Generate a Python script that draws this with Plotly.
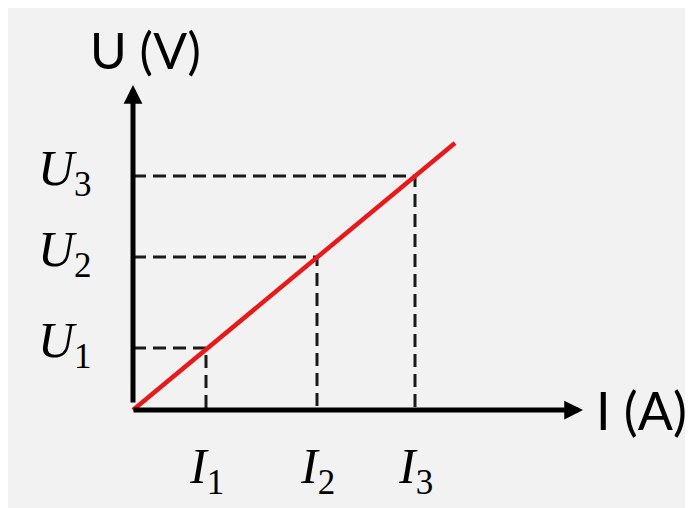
import plotly.graph_objects as go

# Data (arbitrary units)
I_vals = [7.3, 18.4, 28.2]
U_vals = [6.2, 15.3, 23.4]
I_subs = ["1", "2", "3"]
U_subs = ["1", "2", "3"]
line_I = [0, 32.2]
line_U = [0, 26.7]
x_axis_end = 45.0
y_axis_end = 32.5

fig = go.Figure()

# dashed guide lines
for i, u in zip(I_vals, U_vals):
    fig.add_trace(go.Scatter(x=[0, i, i], y=[u, u, 0], mode="lines",
                             line=dict(color="#1a1a1a", width=3, dash="13px,7px"),
                             hoverinfo="skip", showlegend=False))

# red line
fig.add_trace(go.Scatter(x=line_I, y=line_U, mode="lines",
                         line=dict(color="#e8191a", width=4.5),
                         hoverinfo="skip", showlegend=False))

anns = []
# axes arrows
anns.append(dict(x=x_axis_end, y=0, ax=-0.25, ay=0, xref="x", yref="y", axref="x", ayref="y",
                 showarrow=True, arrowhead=2, arrowsize=0.75, arrowwidth=5, arrowcolor="black", text=" "))
anns.append(dict(x=0, y=y_axis_end, ax=0, ay=-0.25, xref="x", yref="y", axref="x", ayref="y",
                 showarrow=True, arrowhead=2, arrowsize=0.75, arrowwidth=5, arrowcolor="black", text=" "))

# axis titles
anns.append(dict(x=1.2, y=36.0, xref="x", yref="y", text="U (V)", showarrow=False,
                 font=dict(family="Lato", size=50, color="black"), xanchor="center", yanchor="middle"))
anns.append(dict(x=46.1, y=0.0, xref="x", yref="y", text="I (A)", showarrow=False,
                 font=dict(family="Lato", size=52, color="black"), xanchor="left", yanchor="middle"))

serif = "Liberation Serif"
for u, s in zip(U_vals, U_subs):
    anns.append(dict(x=-3.9, y=u, xref="x", yref="y", text="<i>U</i><sub>" + s + "</sub>", showarrow=False,
                     font=dict(family=serif, size=50, color="black"), xanchor="right", yanchor="middle",
                     yshift=4))
for i, s in zip(I_vals, I_subs):
    anns.append(dict(x=i, y=-6.0, xref="x", yref="y", text="<i>I</i><sub>" + s + "</sub>", showarrow=False,
                     font=dict(family=serif, size=50, color="black"), xanchor="center", yanchor="middle"))

# page has an 8px body margin, so the figure is 685x500 and starts at (8, 8)
fig.update_layout(
    width=685, height=500,
    margin=dict(l=0, r=0, t=0, b=0),
    paper_bgcolor="#f2f2f2", plot_bgcolor="#f2f2f2",
    xaxis=dict(range=[-12.5, 56.0], visible=False, fixedrange=True),
    yaxis=dict(range=[-9.8, 40.2], visible=False, fixedrange=True),
    annotations=anns,
    showlegend=False,
)

fig.write_html("out.html")
